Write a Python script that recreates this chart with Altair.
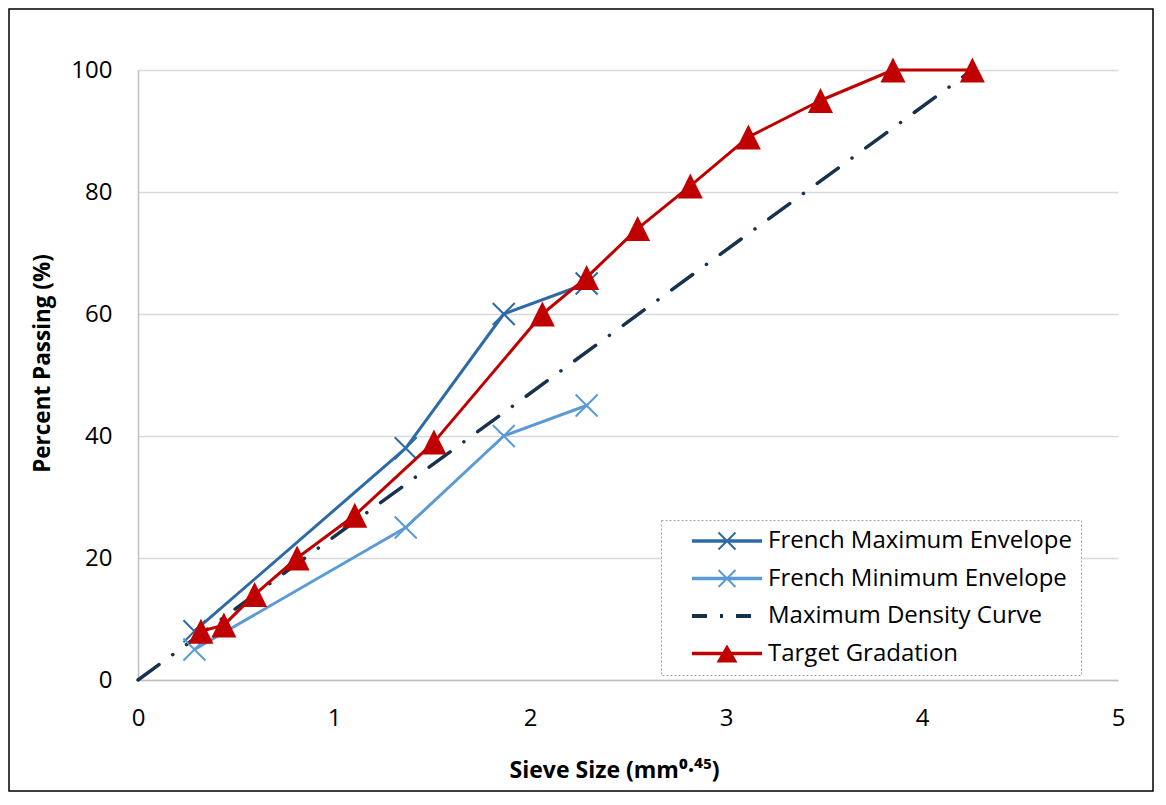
import altair as alt
import pandas as pd

# ---------------- data ----------------
series_names = [
    "French Maximum Envelope",
    "French Minimum Envelope",
    "Maximum Density Curve",
    "Target Gradation",
]
series_colors = ["#2e6aa6", "#5b9bd5", "#16324c", "#c00000"]

max_x = [0.288, 1.366, 1.866, 2.289]
max_y = [8, 38, 60, 65]

min_x = [0.288, 1.366, 1.866, 2.289]
min_y = [5, 25, 40, 45]

density_x = [0.0, 4.257]
density_y = [0, 100]

target_x = [0.321, 0.438, 0.595, 0.812, 1.106, 1.510, 2.063, 2.289,
            2.549, 2.818, 3.114, 3.482, 3.852, 4.257]
target_y = [8, 9, 14, 20, 27, 39, 60, 66, 74, 81, 89, 95, 100, 100]

x_ticks = [0, 1, 2, 3, 4, 5]
y_ticks = [0, 20, 40, 60, 80, 100]


def frame(name, xs, ys):
    return pd.DataFrame({"series": name, "x": xs, "y": ys})


df_max = frame(series_names[0], max_x, max_y)
df_min = frame(series_names[1], min_x, min_y)
df_den = frame(series_names[2], density_x, density_y)
df_tgt = frame(series_names[3], target_x, target_y)
df_all = pd.concat([df_max, df_min, df_den, df_tgt], ignore_index=True)

FONT = "Open Sans"

X = alt.X(
    "x:Q",
    scale=alt.Scale(domain=[0, 5], nice=False),
    axis=alt.Axis(
        values=x_ticks,
        title="Sieve Size (mm⁰·⁴⁵)",
        grid=False,
        ticks=False,
        tickSize=0,
        labelFlush=False,
        domainColor="#bfbfbf",
        domainWidth=1.5,
        labelFont=FONT,
        labelFontSize=24,
        labelColor="#000000",
        labelPadding=26,
        titleFont=FONT,
        titleFontSize=23,
        titleFontWeight="bold",
        titleColor="#000000",
        titleX=476,
        titleY=90,
        titleBaseline="middle",
        titleAlign="center",
    ),
)
Y = alt.Y(
    "y:Q",
    scale=alt.Scale(domain=[0, 100], nice=False),
    axis=alt.Axis(
        values=y_ticks,
        title="Percent Passing (%)",
        grid=True,
        gridColor="#d9d9d9",
        gridWidth=1.5,
        ticks=False,
        tickSize=0,
        labelFlush=False,
        domainColor="#bfbfbf",
        domainWidth=1.5,
        labelFont=FONT,
        labelFontSize=24,
        labelColor="#000000",
        labelPadding=26,
        titleFont=FONT,
        titleFontSize=22.5,
        titleFontWeight="bold",
        titleColor="#000000",
        titleAngle=270,
        titleX=-96,
        titleY=293,
        titleBaseline="middle",
        titleAlign="center",
    ),
)

# outer frame (decoration)
frame_layer = alt.Chart(pd.DataFrame({"k": [0]})).mark_rect(
    fill=None, stroke="#000000", strokeWidth=1.5
).encode(
    x=alt.value(-129), x2=alt.value(1015), y=alt.value(-61), y2=alt.value(721)
)

line_max = alt.Chart(df_max).mark_line(
    color=series_colors[0], strokeWidth=3, strokeCap="round", strokeJoin="round"
).encode(x=X, y=Y)
line_min = alt.Chart(df_min).mark_line(
    color=series_colors[1], strokeWidth=3, strokeCap="round", strokeJoin="round"
).encode(x=X, y=Y)
line_den = alt.Chart(df_den).mark_line(
    color=series_colors[2], strokeWidth=3.5, strokeCap="round",
    strokeDash=[26, 17, 0.1, 17]
).encode(x=X, y=Y)

X_PATH = "M-1,-1L1,1M-1,1L1,-1"
pts_max = alt.Chart(df_max).mark_point(
    shape=X_PATH, size=484, filled=False, color=series_colors[0],
    strokeWidth=2, opacity=1
).encode(x=X, y=Y)
pts_min = alt.Chart(df_min).mark_point(
    shape=X_PATH, size=484, filled=False, color=series_colors[1],
    strokeWidth=2, opacity=1
).encode(x=X, y=Y)

line_tgt = alt.Chart(df_tgt).mark_line(
    color=series_colors[3], strokeWidth=3, strokeCap="round", strokeJoin="round"
).encode(x=X, y=Y)
pts_tgt = alt.Chart(df_tgt).mark_point(
    shape="M0,-1L1,1L-1,1Z", size=625, filled=True, color=series_colors[3],
    opacity=1
).encode(x=X, y=Y)

# legend symbols: filled shapes (10 px per unit at size 400)
LINE = "M-3.5,-0.17H3.5V0.17H-3.5Z"
XBARS = ("M-0.78,-0.92L0.92,0.78L0.78,0.92L-0.92,-0.78Z"
         "M-0.92,0.78L0.78,-0.92L0.92,-0.78L-0.78,0.92Z")
legend_paths = [
    LINE + XBARS,
    LINE + XBARS,
    "M-3.5,-0.2H-2.0V0.2H-3.5ZM-0.7,-0.2H-0.4V0.2H-0.7ZM0.9,-0.2H2.4V0.2H0.9Z",
    LINE + "M0,-0.9L1.05,0.9L-1.05,0.9Z",
]

legend_def = dict(
    title=None,
    orient="none",
    legendX=523,
    legendY=450,
    padding=9,
    symbolOffset=45,
    labelOffset=29,
    rowPadding=13.5,
    labelFont=FONT,
    labelFontSize=24,
    labelColor="#000000",
    labelLimit=500,
    symbolSize=400,
    symbolStrokeWidth=0,
    symbolOpacity=1,
)

legend_layer = alt.Chart(df_all).mark_point(
    filled=True, opacity=0, size=400
).encode(
    x=X,
    y=Y,
    color=alt.Color(
        "series:N",
        scale=alt.Scale(domain=series_names, range=series_colors),
        legend=alt.Legend(**legend_def),
    ),
    shape=alt.Shape(
        "series:N",
        scale=alt.Scale(domain=series_names, range=legend_paths),
        legend=alt.Legend(**legend_def),
    ),
)

chart = alt.layer(
    frame_layer,
    line_max,
    line_min,
    line_den,
    pts_max,
    pts_min,
    line_tgt,
    pts_tgt,
    legend_layer,
).properties(
    width=980,
    height=610,
    autosize=alt.AutoSizeParams(type="none"),
    padding={"left": 130, "top": 62, "right": 36, "bottom": 112},
    background="#ffffff",
).configure(
    font=FONT,
).configure_view(
    stroke=None,
).configure_legend(
    strokeColor="#a6a6a6",
    strokeDash=[2, 2],
    strokeWidth=1,
    fillColor="#ffffff",
)

chart.save("out.html", embed_options={"renderer": "svg", "actions": False})
